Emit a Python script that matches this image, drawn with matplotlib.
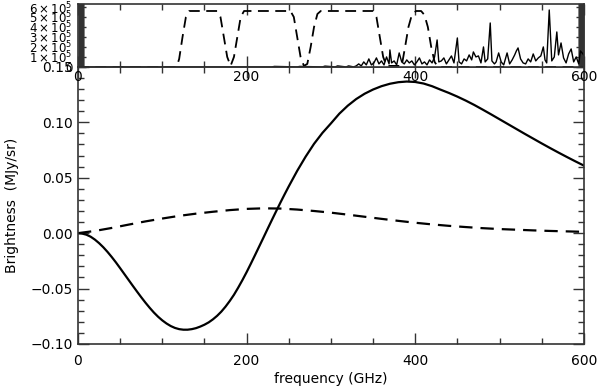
import matplotlib
matplotlib.use('Agg')
import matplotlib.pyplot as plt
from matplotlib.ticker import MultipleLocator, FuncFormatter

# main panel: SZ spectra (MJy/sr)
freq = [0, 5, 10, 15, 20, 25, 30, 35, 40, 45, 50, 55, 60, 65, 70, 75, 80, 85, 90, 95,
        100, 105, 110, 115, 120, 125, 130, 135, 140, 145, 150, 155, 160, 165, 170, 175,
        180, 185, 190, 195, 200, 205, 210, 215, 220, 225, 230, 235, 240, 245, 250, 260,
        270, 280, 290, 300, 310, 320, 330, 340, 350, 360, 370, 380, 390, 400, 410, 420,
        430, 440, 450, 460, 470, 480, 490, 500, 510, 520, 530, 540, 550, 560, 570, 580,
        590, 600]
thermal = [0, -0.0004, -0.0014, -0.0032, -0.0058, -0.0090, -0.0127, -0.0169, -0.0215,
           -0.0264, -0.0316, -0.0369, -0.0422, -0.0475, -0.0527, -0.0578, -0.0627,
           -0.0673, -0.0716, -0.0754, -0.0787, -0.0815, -0.0838, -0.0855, -0.0866,
           -0.0871, -0.0871, -0.0866, -0.0857, -0.0843, -0.0826, -0.0805, -0.0778,
           -0.0746, -0.0708, -0.0663, -0.0612, -0.0556, -0.0492, -0.0424, -0.0352,
           -0.0276, -0.0198, -0.0119, -0.0040, 0.0040, 0.0119, 0.0197, 0.0274, 0.0349,
           0.0422, 0.0562, 0.0690, 0.0806, 0.0905, 0.0990, 0.1078, 0.1150, 0.1210,
           0.1258, 0.1296, 0.1326, 0.1348, 0.1362, 0.1368, 0.1364, 0.1350, 0.1326,
           0.1295, 0.1265, 0.1232, 0.1196, 0.1157, 0.1115, 0.1072, 0.1028, 0.0984,
           0.0940, 0.0896, 0.0853, 0.0810, 0.0768, 0.0727, 0.0687, 0.0648, 0.0610]

kfreq = [0, 20, 40, 60, 80, 100, 120, 140, 160, 180, 200, 220, 240, 260, 280, 300, 320,
         340, 360, 380, 400, 420, 440, 460, 480, 500, 520, 540, 560, 580, 600]
kinetic = [0, 0.0020, 0.0047, 0.0077, 0.0106, 0.0132, 0.0156, 0.0176, 0.0193, 0.0208,
           0.0219, 0.0224, 0.0222, 0.0213, 0.0200, 0.0185, 0.0167, 0.0148, 0.0129, 0.0111,
           0.0094, 0.0079, 0.0066, 0.0055, 0.0045, 0.0037, 0.0031, 0.0025, 0.0020, 0.0016,
           0.0012]

# top panel: bandpasses (dashed) and line spectrum (solid), units of 1e5
band_freq = [0, 117, 120, 124, 128, 132, 165, 169, 173, 177, 181, 185, 189, 193, 197,
             252, 256, 260, 264, 268, 272, 276, 280, 284, 288, 350, 354, 358, 362, 366,
             384, 388, 392, 396, 401, 407, 411, 415, 419, 423, 427, 600]
band_val = [0, 0, 0.8, 3.0, 5.0, 5.6, 5.6, 5.0, 3.0, 1.0, 0.1, 1.0, 3.0, 5.0, 5.6,
            5.6, 5.0, 3.0, 1.0, 0.1, 0.3, 2.0, 4.0, 5.3, 5.6, 5.6, 5.0, 3.0, 1.0, 0.1,
            0.1, 2.0, 4.0, 5.2, 5.6, 5.6, 5.2, 4.0, 2.0, 0.5, 0, 0]

spec_freq = [0, 200, 230, 233, 260, 263, 290, 293, 305, 308, 318, 321, 327, 330, 333,
             336, 339, 342, 345, 348, 351, 354, 357, 360, 363, 366, 369, 370, 372, 375,
             378, 381, 384, 387, 390, 393, 396, 399, 402, 405, 408, 411, 414, 417, 420,
             423, 426, 428, 431, 434, 437, 440, 443, 446, 450, 452, 455, 458, 461, 464,
             467, 469, 472, 475, 478, 481, 483, 486, 489, 491, 494, 496, 499, 502, 505,
             509, 512, 515, 518, 520, 522, 525, 528, 531, 534, 537, 540, 543, 546, 549,
             552, 554, 556, 559, 562, 565, 568, 570, 573, 576, 579, 582, 585, 588, 591,
             594, 596, 600]
spec_val = [0, 0, 0, 0.05, 0, 0.05, 0, 0.08, 0, 0.1, 0, 0.1, 0, 0.1, 0.3,
            0.1, 0.5, 0.2, 0.8, 0.2, 0.4, 0.9, 0.3, 0.6, 0.2, 1.0, 0.3, 1.7, 0.4, 0.6,
            0.2, 1.4, 0.5, 0.3, 0.7, 0.4, 0.6, 0.2, 0.5, 0.9, 0.3, 0.5, 0.2, 0.7, 0.4,
            1.0, 2.7, 0.5, 0.6, 0.9, 0.3, 0.7, 1.1, 0.4, 2.9, 0.5, 0.3, 0.8, 0.6, 1.2,
            0.7, 1.5, 1.0, 1.1, 0.4, 2.0, 0.5, 0.8, 4.4, 0.6, 0.3, 0.5, 1.4, 0.5, 0.2,
            1.4, 0.3, 0.7, 1.2, 1.6, 1.9, 0.8, 0.4, 0.3, 0.8, 0.5, 1.3, 0.6, 0.9, 1.1,
            2.0, 0.7, 0.4, 5.7, 0.6, 1.0, 3.5, 1.2, 2.4, 0.9, 0.4, 1.3, 1.8, 0.5, 1.0,
            0.3, 1.6, 1.2]

spine_col = '#333333'

fig = plt.figure(figsize=(6, 3.89), dpi=100)
ax = fig.add_axes([0.13, 0.1157, 0.843, 0.7123])
axt = fig.add_axes([0.13, 0.828, 0.843, 0.1617], sharex=ax)

ax.plot(freq, thermal, color='k', lw=1.6)
ax.plot(kfreq, kinetic, color='k', lw=1.6, dashes=(6, 3.6))
ax.set_xlim(0, 600)
ax.set_ylim(-0.10, 0.15)
ax.xaxis.set_major_locator(MultipleLocator(200))
ax.xaxis.set_minor_locator(MultipleLocator(50))
ax.yaxis.set_major_locator(MultipleLocator(0.05))
ax.yaxis.set_minor_locator(MultipleLocator(0.01))
ax.yaxis.set_major_formatter(FuncFormatter(lambda v, p: f'{v:.2f}'.replace('-', '\u2212')))
ax.tick_params(which='both', direction='in', top=True, right=True, labelsize=10,
               color=spine_col)
ax.tick_params(which='major', length=8, width=1)
ax.tick_params(which='minor', length=4, width=1)
ax.tick_params(axis='x', pad=7)
ax.tick_params(axis='y', pad=4)
ax.set_xlabel('frequency (GHz)', fontsize=10, labelpad=3)
ax.set_ylabel('Brightness  (MJy/sr)', fontsize=10, labelpad=8)

axt.plot(spec_freq, [v * 1e5 for v in spec_val], color='k', lw=1.0)
axt.plot(band_freq, [v * 1e5 for v in band_val], color='k', lw=1.3, dashes=(6, 3.6))
axt.set_ylim(0, 6.3e5)
axt.yaxis.set_major_locator(MultipleLocator(1e5))
axt.yaxis.set_minor_locator(MultipleLocator(1e4))


def sci(v, p):
    n = int(round(v / 1e5))
    return '0' if n == 0 else rf'${n}\times10^5$'


axt.yaxis.set_major_formatter(FuncFormatter(sci))
axt.tick_params(which='both', direction='in', top=True, right=True, color=spine_col)
axt.tick_params(axis='y', labelsize=8.5, pad=4)
axt.tick_params(axis='x', labelsize=10, pad=2, labelbottom=True)
axt.tick_params(which='major', length=6, width=1)
axt.tick_params(which='minor', length=4, width=1)
axt.tick_params(axis='x', which='major', length=8)

for a in (ax, axt):
    for s in a.spines.values():
        s.set_color(spine_col)
        s.set_linewidth(1.2)

fig.savefig('out.png', dpi=100)
